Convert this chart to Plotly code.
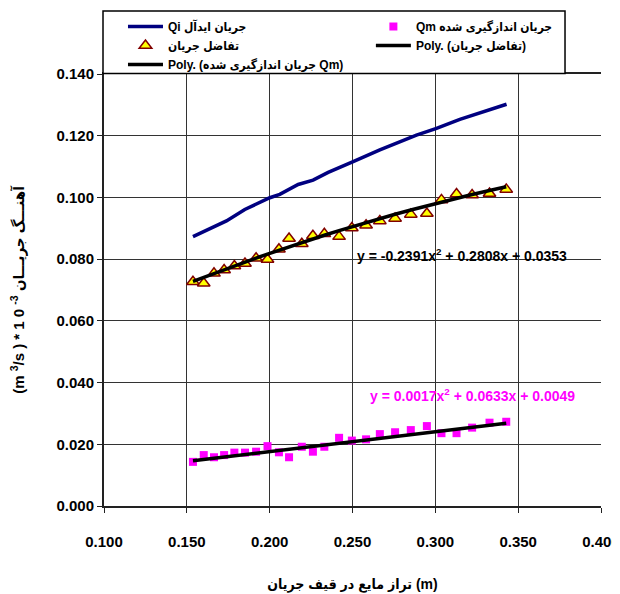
import numpy as np
import plotly.graph_objects as go

# ---- data ----
h = [0.1537, 0.1602, 0.1664, 0.1725, 0.1787, 0.1851, 0.1918, 0.1987, 0.2056, 0.2117,
     0.2194, 0.2261, 0.2330, 0.2419, 0.2496, 0.2582, 0.2665, 0.2757, 0.2852, 0.2949,
     0.3037, 0.3128, 0.3222, 0.3327, 0.3428]
q_diff = [0.0727, 0.0722, 0.0754, 0.0765, 0.0778, 0.0786, 0.0803, 0.0799, 0.0832, 0.0867,
          0.0850, 0.0876, 0.0882, 0.0873, 0.0901, 0.0910, 0.0924, 0.0932, 0.0945, 0.0948,
          0.0992, 0.1011, 0.1008, 0.1013, 0.1026]
q_m = [0.0143, 0.0165, 0.0158, 0.0165, 0.0173, 0.0173, 0.0176, 0.0194, 0.0174, 0.0158,
       0.0192, 0.0176, 0.0192, 0.0221, 0.0212, 0.0216, 0.0233, 0.0239, 0.0246, 0.0259,
       0.0236, 0.0236, 0.0254, 0.0270, 0.0273]
h_qi = [0.1537, 0.1668, 0.1739, 0.1850, 0.2001, 0.2061, 0.2172, 0.2262, 0.2353, 0.2504,
        0.2665, 0.2886, 0.3007, 0.3148, 0.3289, 0.3430]
q_i = [0.0873, 0.0908, 0.0924, 0.0961, 0.0999, 0.1010, 0.1042, 0.1056, 0.1081, 0.1116,
       0.1154, 0.1202, 0.1224, 0.1253, 0.1278, 0.1302]

# trendline coefficients shown on the chart (a, b, c for a*x^2 + b*x + c)
coef_diff = [-0.2391, 0.2808, 0.0353]
coef_qm = [0.0017, 0.0633, 0.0049]

x_ticks = [0.100, 0.150, 0.200, 0.250, 0.300, 0.350, 0.400]
y_ticks = [0.000, 0.020, 0.040, 0.060, 0.080, 0.100, 0.120, 0.140]

name_qi = "Qi جریان ایدآل"
name_qm = "Qm جریان اندازگیری شده"
name_diff = "تفاضل جریان"
name_poly_diff = "Poly. (تفاضل جریان)"
name_poly_qm = "Poly. (جریان اندازگیری شده Qm)"
eq_diff = "y = -0.2391x<sup>2</sup> + 0.2808x + 0.0353"
eq_qm = "y = 0.0017x<sup>2</sup> + 0.0633x + 0.0049"
x_title = "تراز مایع در قیف جریان (m)"
y_title = "(m <sup>3</sup>/s ) * 1 0 <sup>-3</sup> آهنـــگ جریـــان"

FONT = "Liberation Sans, Arial, DejaVu Sans Condensed, DejaVu Sans, sans-serif"

hx = np.array(h)
fit_diff = np.polyval(coef_diff, hx)
fit_qm = np.polyval(coef_qm, hx)

fig = go.Figure()
fig.add_trace(go.Scatter(x=h_qi, y=q_i, mode="lines", name=name_qi, legend="legend",
                         line=dict(color="#000080", width=3.5)))
fig.add_trace(go.Scatter(x=h, y=q_m, mode="markers", name=name_qm, legend="legend2",
                         marker=dict(symbol="square", size=8, color="#FF00FF",
                                     line=dict(width=0))))
fig.add_trace(go.Scatter(x=h, y=q_diff, mode="markers", name=name_diff, legend="legend",
                         marker=dict(symbol="triangle-up", size=11, color="#FFFF00",
                                     line=dict(color="#800000", width=1.5))))
fig.add_trace(go.Scatter(x=h, y=fit_diff, mode="lines", name=name_poly_diff, legend="legend2",
                         line=dict(color="#000000", width=3.5)))
fig.add_trace(go.Scatter(x=h, y=fit_qm, mode="lines", name=name_poly_qm, legend="legend",
                         line=dict(color="#000000", width=3.5)))

fig.add_annotation(x=0.2515, y=0.0813, xref="x", yref="y", text=eq_diff,
                   showarrow=False, xanchor="left", yanchor="middle",
                   font=dict(family=FONT, size=14, color="#000000", weight="bold"))
fig.add_annotation(x=0.2594, y=0.0360, xref="x", yref="y", text=eq_qm,
                   showarrow=False, xanchor="left", yanchor="middle",
                   font=dict(family=FONT, size=14, color="#FF00FF", weight="bold"))

# legend frame
fig.add_shape(type="rect", xref="paper", yref="paper", x0=-0.002, x1=0.9276,
              y0=1.001, y1=1.1458, layer="above",
              fillcolor="#FFFFFF", line=dict(color="#000000", width=1.5))

axis_common = dict(showgrid=True, gridcolor="#333333", gridwidth=1, automargin=False,
                   zeroline=False, showline=True, linecolor="#222222", linewidth=2,
                   ticks="outside", ticklen=5, tickcolor="#222222", tickwidth=1,
                   ticklabeloverflow="allow",
                   tickfont=dict(family=FONT, size=15, color="#000000", weight="bold"))

fig.update_xaxes(range=[0.1, 0.4], tickvals=x_ticks, tickformat=".3f",
                 ticklabelstandoff=16, mirror=True,
                 title=dict(text=x_title, standoff=30,
                            font=dict(family=FONT, size=14, color="#000000", weight="bold")),
                 **axis_common)
fig.update_yaxes(range=[0, 0.14], tickvals=y_ticks, tickformat=".3f",
                 title=dict(text=y_title, standoff=28,
                            font=dict(family=FONT, size=15, color="#000000", weight="bold")),
                 **axis_common)

legend_common = dict(orientation="v", yanchor="top", xanchor="left",
                     bgcolor="rgba(0,0,0,0)", borderwidth=0, itemwidth=35,
                     tracegroupgap=0,
                     font=dict(family=FONT, size=12, color="#000000", weight="bold"))

fig.update_layout(
    width=612, height=586,
    margin=dict(l=96, r=19, t=66, b=88, autoexpand=False),
    paper_bgcolor="#FFFFFF", plot_bgcolor="#FFFFFF",
    legend=dict(x=0.0382, y=1.1435, **legend_common),
    legend2=dict(x=0.537, y=1.1435, **legend_common),
    showlegend=True,
)

fig.write_html("out.html")
